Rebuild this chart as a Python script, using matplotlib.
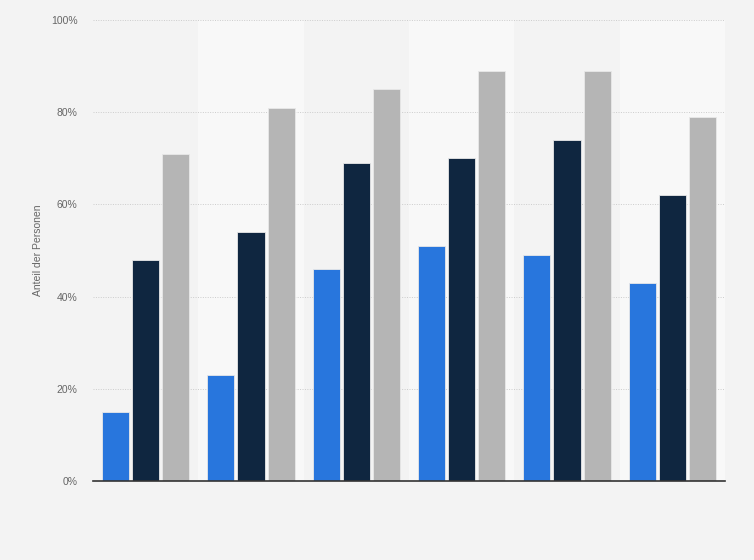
import matplotlib
matplotlib.use("Agg")
import matplotlib.pyplot as plt
import numpy as np
from matplotlib.ticker import FuncFormatter

plt.rcParams["font.family"] = ["Liberation Sans", "DejaVu Sans"]

categories = ["1", "2", "3", "4", "5", "6"]
series_a = [15, 23, 46, 51, 49, 43]
series_b = [48, 54, 69, 70, 74, 62]
series_c = [71, 81, 85, 89, 89, 79]
colors = ["#2876dd", "#0f2640", "#b5b5b5"]
yticks = [0, 20, 40, 60, 80, 100]

fig = plt.figure(figsize=(7.54, 5.6), dpi=100)
fig.patch.set_facecolor("#f3f3f3")
ax = fig.add_axes([93/754, 79/560, 632/754, 461/560])
ax.set_facecolor("#f3f3f3")

n = len(categories)
x = np.arange(n)
for i in range(n):
    if i % 2 == 1:
        ax.axvspan(i - 0.5, i + 0.5, color="#f8f8f8", zorder=0, lw=0)

step = 30/105.33
width = 27/105.33
for k, (vals, c) in enumerate(zip([series_a, series_b, series_c], colors)):
    ax.bar(x + (k - 1) * step, vals, width, color=c, edgecolor="#e8e8e8",
           linewidth=0.6, zorder=3)

ax.set_xlim(-0.5, n - 0.5)
ax.set_ylim(0, 100)
ax.set_yticks(yticks)
ax.yaxis.set_major_formatter(FuncFormatter(lambda v, p: f"{int(v)}%"))
ax.set_xticks([])
ax.grid(axis="y", color="#cccccc", linestyle=(0, (1, 1.5)), linewidth=0.7, zorder=1)
ax.tick_params(axis="y", length=0, pad=11, labelsize=7.5, labelcolor="#666666")
for s in ["top", "right", "left"]:
    ax.spines[s].set_visible(False)
ax.spines["bottom"].set_color("#333333")
ax.spines["bottom"].set_linewidth(1.2)
ax.spines["bottom"].set_zorder(4)
ax.set_ylabel("Anteil der Personen", fontsize=7.5, color="#666666", labelpad=6)

fig.savefig("out.png", dpi=100, facecolor=fig.get_facecolor())
